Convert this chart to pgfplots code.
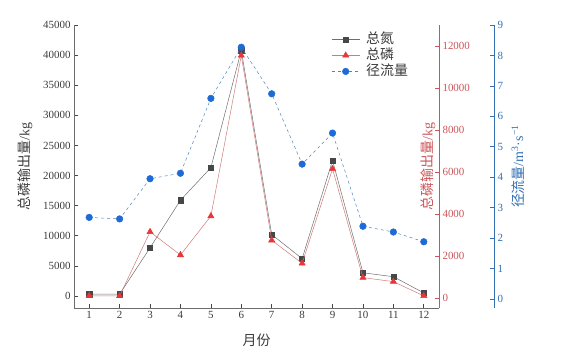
\documentclass[border=0pt]{standalone}
\usepackage{pgfplots}
\pgfplotsset{compat=1.18}
\usepackage{fontspec}
\setmainfont{Liberation Serif}
\newfontfamily\cjk{Noto Sans CJK SC}
\definecolor{sqc}{HTML}{474747}
\definecolor{sql}{HTML}{6E6E6E}
\definecolor{tric}{HTML}{E8363B}
\definecolor{tril}{HTML}{D27A7A}
\definecolor{cirC}{HTML}{1F6BD6}
\definecolor{cirl}{HTML}{4F86B8}
\definecolor{redax}{HTML}{C9565A}
\definecolor{blueax}{HTML}{3470B3}
\definecolor{txt}{HTML}{3C3C3C}
\pgfplotsset{
  base/.style={
    at={(74bp,50bp)}, anchor=south west, scale only axis,
    height=283bp, xmin=0.5,
    /pgf/number format/assume math mode=true,
    /pgf/number format/1000 sep={},
    scaled y ticks=false,
    tick label style={font=\fontsize{11}{12}\selectfont},
    label style={font=\fontsize{14}{15}\selectfont},
    major tick length=4bp,
    legend image code/.code={\draw[mark repeat=2,mark phase=2] plot coordinates {(0cm,0cm)(0.5cm,0cm)(1cm,0cm)};},
  }
}
\begin{document}
\begin{tikzpicture}
\useasboundingbox (0,0) rectangle (567bp,358bp);
% Total N (left axis)
\begin{axis}[base, width=365bp, xmax=12.5,
  ymin=-2000, ymax=45000,
  axis x line*=bottom, axis y line*=left,
  axis line style={color=sqc!80, line width=0.6pt},
  tick style={color=sqc, line width=0.6pt},
  xtick={1,...,12}, ytick={0,5000,...,45000},
  ticklabel style={color=txt},
  xlabel={\cjk 月份},
  ylabel={{\cjk 总磷输出量}/kg},
  xlabel style={at={(axis description cs:0.5,-0.113)}, anchor=center, color=txt},
  ylabel style={at={(axis description cs:-0.134,0.5)}, anchor=center, color=txt},
]
\addplot[color=sql, line width=0.5pt, mark=square*, mark size=2.6bp,
  mark options={fill=sqc, draw=sqc, solid}] coordinates {
(1,300) (2,300) (3,8000) (4,15900) (5,21300) (6,40800) (7,10200) (8,6200) (9,22500) (10,3850) (11,3200) (12,500)};
\end{axis}
% Total P (red right axis)
\begin{axis}[base, width=365bp, xmax=12.5,
  ymin=-476, ymax=13000,
  axis x line=none, axis y line*=right,
  axis line style={color=redax, line width=0.6pt},
  tick style={color=redax, line width=0.6pt},
  ytick={0,2000,...,12000},
  yticklabel style={color=redax},
  ylabel={{\cjk 总磷输出量}/kg},
  ylabel style={at={(axis description cs:0.970,0.5)}, anchor=center, color=redax},
]
\addplot[color=tril, line width=0.5pt, mark=triangle*, mark size=3.6bp,
  mark options={fill=tric, draw=tric, solid}] coordinates {
(1,100) (2,100) (3,3150) (4,2050) (5,3900) (6,11550) (7,2750) (8,1650) (9,6150) (10,970) (11,780) (12,100)};
\end{axis}
% Runoff (blue offset axis)
\begin{axis}[base, width=420bp, xmax=14.308,
  ymin=-0.296, ymax=9,
  axis x line=none, axis y line*=right,
  axis line style={color=blueax, line width=0.6pt},
  tick style={color=blueax, line width=0.6pt},
  ytick={0,1,...,9},
  yticklabel style={color=blueax},
  ylabel={{\cjk 径流量}/m\textsuperscript{3}·s\textsuperscript{−1}},
  ylabel style={at={(axis description cs:1.057,0.5)}, anchor=center, color=blueax},
  legend cell align=left,
  legend style={at={(0.605,0.985)}, anchor=north west, draw=none, fill=none,
    font=\fontsize{14}{15}\selectfont\cjk, row sep=0pt, text=txt,
    nodes={inner sep=1bp, text height=11bp, text depth=3bp},
    /tikz/every odd column/.append style={column sep=5bp}},
]
\addlegendimage{color=sql, line width=0.5pt, mark=square*, mark size=2.6bp, mark options={fill=sqc, draw=sqc, solid}}
\addlegendentry{总氮}
\addlegendimage{color=tril, line width=0.5pt, mark=triangle*, mark size=3.6bp, mark options={fill=tric, draw=tric, solid}}
\addlegendentry{总磷}
\addplot[color=cirl, line width=0.5pt, dashed, mark=*, mark size=3.3bp,
  mark options={fill=cirC, draw=cirC, solid}] coordinates {
(1,2.68) (2,2.63) (3,3.95) (4,4.13) (5,6.59) (6,8.27) (7,6.74) (8,4.43) (9,5.45) (10,2.39) (11,2.20) (12,1.88)};
\addlegendentry{径流量}
\end{axis}
\end{tikzpicture}
\end{document}
